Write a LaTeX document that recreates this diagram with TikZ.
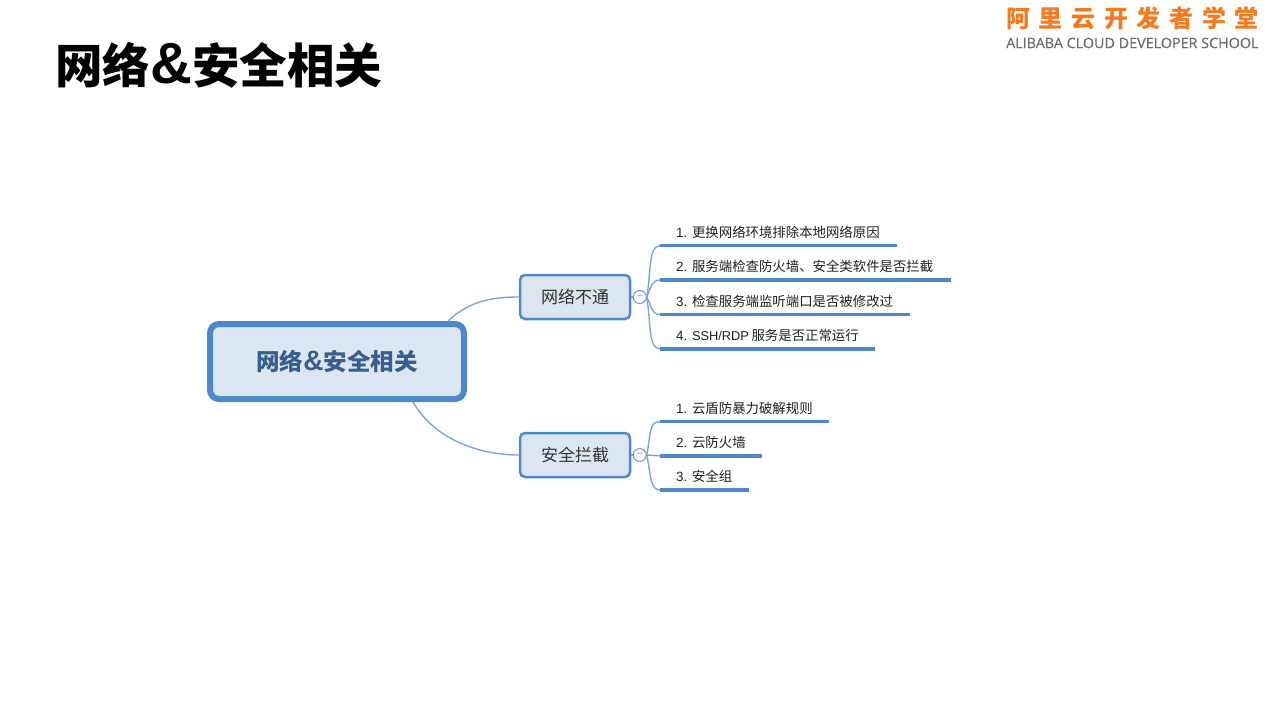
\documentclass[tikz,border=0pt]{standalone}
\usepackage{fontspec}
\setmainfont{Noto Sans CJK SC}
\newfontfamily\latinfont{Liberation Sans}
\newfontfamily\logofont[LetterSpace=36]{Noto Sans CJK SC}
\newfontfamily\schoolfont[FakeBold=0.4]{Open Sans}
\usetikzlibrary{positioning}
\definecolor{mapblue}{HTML}{4F87CB}
\definecolor{mapfill}{HTML}{DCE6F2}
\definecolor{mapink}{HTML}{375E8F}
\definecolor{logoorange}{HTML}{F47A1F}
% latin runs inside the leaf labels
\newcommand{\lat}[1]{{\latinfont\fontsize{12.8}{16}\selectfont #1}}
\newcommand{\num}[1]{{\latinfont #1}\hspace{4.7pt}}
% the ampersand is drawn a little larger than its neighbours
\newcommand{\bigamp}[1]{{\latinfont\fontsize{#1}{#1}\selectfont\bfseries\&}}
\tikzstyle{root} = [
	rectangle,
	rounded corners=9pt,
	minimum width=254pt,
	minimum height=75pt,
	line width=6pt,
	text centered,
	draw=mapblue,
	fill=mapfill,
	text=mapink,
	font=\fontsize{23.5}{28}\selectfont\bfseries
]
\tikzstyle{branch} = [
	rectangle,
	rounded corners=5pt,
	minimum width=110pt,
	minimum height=44pt,
	line width=2.5pt,
	text centered,
	draw=mapblue,
	fill=mapfill,
	text=black!80,
	font=\fontsize{17}{20}\selectfont
]
\tikzstyle{leaf} = [
	inner sep=0pt,
	minimum height=27pt,
	text height=12pt,
	text depth=1pt,
	align=left,
	text=black!88,
	font=\fontsize{13.4}{16}\selectfont,
	execute at begin node={\hspace*{16pt}}
]
\tikzstyle{fold} = [circle, draw=mapblue!85, fill=white, line width=1pt, inner sep=0pt, minimum size=13pt, text=black!55, font=\fontsize{10}{10}\selectfont]
\tikzstyle{rule} = [draw=mapblue, line width=3.3pt]
\tikzstyle{limb} = [draw=mapblue!75, line width=1.4pt]
\tikzstyle{twig} = [draw=mapblue!75, line width=1.4pt]

\begin{document}
\begin{tikzpicture}[x=1pt, y=-1pt]
	\useasboundingbox (0,0) rectangle (1267,713);
	\node (title) [anchor=west, inner sep=0pt, font=\fontsize{47.5}{54}\selectfont\bfseries] at (55,65) {网络\bigamp{58}安全相关};
	\node (logo) [anchor=west, inner sep=0pt, text=logoorange, font=\fontsize{24}{30}\logofont\bfseries] at (1006,18.5) {阿里云开发者学堂};
	\node (school) [anchor=west, inner sep=0pt, text=black!58, font=\fontsize{14.35}{15}\schoolfont] at (1006,43) {ALIBABA CLOUD DEVELOPER SCHOOL};

	\node (topic) [root] at (337,361.5) {网络\bigamp{28}安全相关};
	\node (net) [branch] at (575,297) {网络不通};
	\node (sec) [branch, below=158pt of net.center, anchor=center] {安全拦截};
	\node (foldnet) [fold, right=1.5pt of net] {–};
	\node (foldsec) [fold, right=1.5pt of sec] {–};

	\node (net1) [leaf, text width=237pt, anchor=west] at (660,232) {\num{1.}更换网络环境排除本地网络原因};
	\node (net2) [leaf, text width=291pt, below=34.4pt of net1.west, anchor=west] {\num{2.}服务端检查防火墙、安全类软件是否拦截};
	\node (net3) [leaf, text width=250pt, below=34.4pt of net2.west, anchor=west] {\num{3.}检查服务端监听端口是否被修改过};
	\node (net4) [leaf, text width=215pt, below=34.4pt of net3.west, anchor=west] {\num{4.}\lat{SSH/RDP}\hspace{2.6pt}服务是否正常运行};
	\node (sec1) [leaf, text width=169pt, anchor=west] at (660,408) {\num{1.}云盾防暴力破解规则};
	\node (sec2) [leaf, text width=102pt, below=34.2pt of sec1.west, anchor=west] {\num{2.}云防火墙};
	\node (sec3) [leaf, text width=89pt, below=34.2pt of sec2.west, anchor=west] {\num{3.}安全组};

	\draw [limb] ([xshift=-19pt]topic.north east) .. controls (470,300) and (495,297) .. (net.west);
	\draw [limb] ([xshift=76pt]topic.south) .. controls (435,440) and (480,455) .. (sec.west);
	\draw [twig] (net.east) -- (foldnet.west);
	\draw [twig] (sec.east) -- (foldsec.west);

	\draw [twig] (foldnet.east) .. controls (651,275) and (648,245.5) .. (net1.south west);
	\draw [twig] (foldnet.east) .. controls (651,287) and (652,280) .. (net2.south west);
	\draw [twig] (foldnet.east) .. controls (651,305) and (652,315) .. (net3.south west);
	\draw [twig] (foldnet.east) .. controls (651,322) and (648,349) .. (net4.south west);
	\draw [twig] (foldsec.east) .. controls (651,433) and (649,421.5) .. (sec1.south west);
	\draw [twig] (foldsec.east) -- (sec2.south west);
	\draw [twig] (foldsec.east) .. controls (651,475) and (650,490) .. (sec3.south west);

	\draw [rule] (net1.south west) -- (net1.south east);
	\draw [rule] (net2.south west) -- (net2.south east);
	\draw [rule] (net3.south west) -- (net3.south east);
	\draw [rule] (net4.south west) -- (net4.south east);
	\draw [rule] (sec1.south west) -- (sec1.south east);
	\draw [rule] (sec2.south west) -- (sec2.south east);
	\draw [rule] (sec3.south west) -- (sec3.south east);
\end{tikzpicture}
\end{document}
